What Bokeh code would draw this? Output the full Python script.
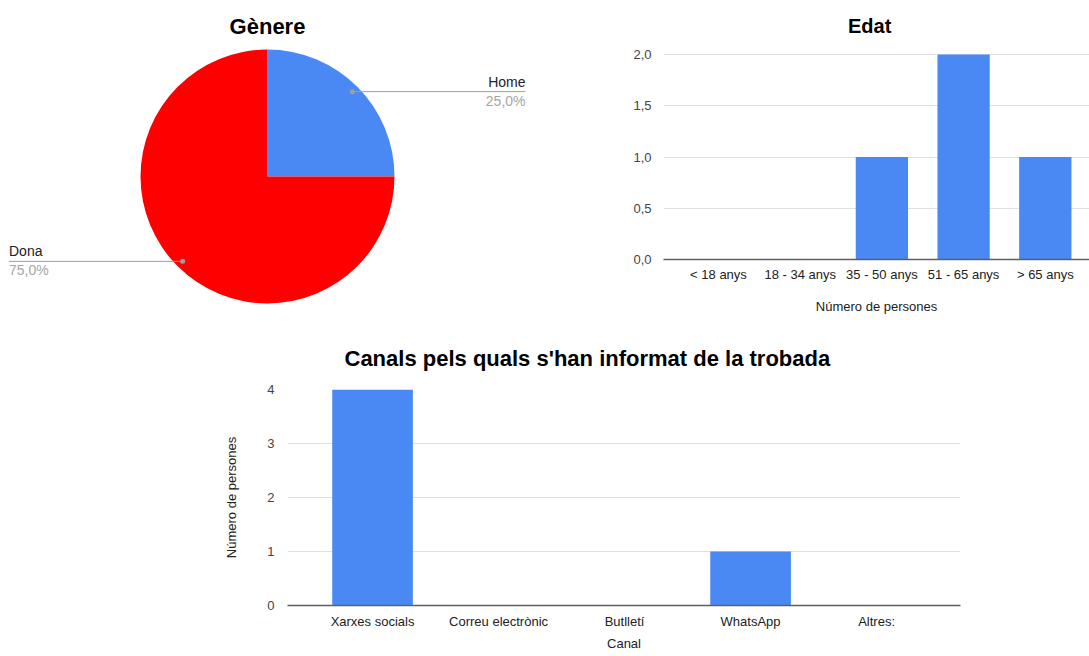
import math
from bokeh.plotting import figure
from bokeh.layouts import column, row
from bokeh.models import Range1d, FixedTicker, Spacer, CustomJSTickFormatter, ColumnDataSource, Title
from bokeh.embed import file_html
from bokeh.resources import INLINE
from bokeh.core.properties import value

FONT = "Liberation Sans"

# ---------------- data ----------------
gender_labels = ["Home", "Dona"]
gender_counts = [1, 3]
gender_colors = ["#4a89f3", "#ff0000"]

age_groups = ["< 18 anys", "18 - 34 anys", "35 - 50 anys", "51 - 65 anys", "> 65 anys"]
age_counts = [0, 0, 1, 2, 1]
age_ticks = [0, 0.5, 1, 1.5, 2]

channels = ["Xarxes socials", "Correu electrònic", "Butlletí", "WhatsApp", "Altres:"]
channel_counts = [4, 0, 0, 1, 0]
channel_ticks = [0, 1, 2, 3, 4]

BLUE = "#4a89f3"


def base_fig(**kw):
    p = figure(output_backend="svg", toolbar_location=None, **kw)
    p.outline_line_color = None
    p.background_fill_color = "white"
    p.border_fill_color = "white"
    return p


# ---------------- pie: Gènere ----------------
pie = base_fig(width=610, height=324, x_range=Range1d(0, 610), y_range=Range1d(-324, 0),
               min_border=0)
pie.axis.visible = False
pie.grid.visible = False

cx, cy, R = 267, -176, 127
total = sum(gender_counts)
starts, ends, mids, pcts = [], [], [], []
cum = 0.0
for v in gender_counts:
    a_start = math.pi / 2 - 2 * math.pi * (cum + v) / total
    a_end = math.pi / 2 - 2 * math.pi * cum / total
    starts.append(a_start)
    ends.append(a_end)
    mids.append((a_start + a_end) / 2)
    pcts.append(("%.1f" % (v / total * 100)).replace(".", ",") + "%")
    cum += v

pie.wedge(x=cx, y=cy, radius=R, start_angle=starts, end_angle=ends,
          fill_color=gender_colors, line_color=None)

dot_x = [cx + 0.945 * R * math.cos(m) for m in mids]
dot_y = [cy + 0.945 * R * math.sin(m) for m in mids]
end_x = [525 if math.cos(m) > 0 else 8.5 for m in mids]
align = ["right" if math.cos(m) > 0 else "left" for m in mids]

pie.segment(x0=dot_x, y0=dot_y, x1=end_x, y1=dot_y, line_color="#9e9e9e", line_width=1)
pie.scatter(x=dot_x, y=dot_y, size=5, fill_color="#9e9e9e", line_color=None)

src_lab = ColumnDataSource(dict(x=end_x, y=[y + 10 for y in dot_y], t=gender_labels, a=align))
pie.text(x="x", y="y", text="t", text_align="a", text_baseline="middle",
         text_font=value(FONT), text_font_size="14px", text_color="#222222", source=src_lab)
src_pct = ColumnDataSource(dict(x=end_x, y=[y - 9 for y in dot_y], t=pcts, a=align))
pie.text(x="x", y="y", text="t", text_align="a", text_baseline="middle",
         text_font=value(FONT), text_font_size="14px", text_color="#a6a6a6", source=src_pct)

pie.text(x=[267], y=[-26], text=["Gènere"], text_align="center", text_baseline="middle",
         text_font=value(FONT), text_font_size="22px", text_font_style="bold",
         text_color="#000000")


def style_bar_axes(p, xlabels):
    p.xgrid.grid_line_color = None
    p.ygrid.grid_line_color = "#e0e0e0"
    p.ygrid.grid_line_width = 1
    p.yaxis.axis_line_color = None
    p.yaxis.major_tick_line_color = None
    p.yaxis.minor_tick_line_color = None
    p.yaxis.major_label_text_font = FONT
    p.yaxis.major_label_text_font_size = "13px"
    p.yaxis.major_label_text_color = "#444444"
    p.xaxis.axis_line_color = "#5f5f5f"
    p.xaxis.axis_line_width = 1.5
    p.xaxis.major_tick_line_color = None
    p.xaxis.minor_tick_line_color = None
    p.xaxis.ticker = FixedTicker(ticks=list(range(len(xlabels))))
    p.xaxis.major_label_overrides = {i: s for i, s in enumerate(xlabels)}
    p.xaxis.major_label_text_font = FONT
    p.xaxis.major_label_text_font_size = "13px"
    p.xaxis.major_label_text_color = "#222222"
    for ax in (p.xaxis, p.yaxis):
        ax.axis_label_text_font = FONT
        ax.axis_label_text_font_size = "13px"
        ax.axis_label_text_font_style = "normal"
        ax.axis_label_text_color = "#222222"


# ---------------- bar: Edat ----------------
# frame runs from the top of the figure so the title sits inside it, above the 2,0 gridline
edat = base_fig(width=479, height=324, x_range=Range1d(-0.673, 4.541), y_range=Range1d(0, 2.527),
                min_border_left=53, min_border_right=0, min_border_top=0, min_border_bottom=65)
edat.vbar(x=list(range(len(age_groups))), top=age_counts, width=0.64,
          fill_color=BLUE, line_color=None)
style_bar_axes(edat, age_groups)
edat.yaxis.ticker = FixedTicker(ticks=age_ticks)
edat.yaxis.formatter = CustomJSTickFormatter(code="return tick.toFixed(1).replace('.', ',');")
edat.yaxis.major_label_standoff = 6
edat.xaxis.major_label_standoff = 1
edat.xaxis.axis_label = "Número de persones"
edat.xaxis.axis_label_standoff = 14
edat.text(x=[1.85], y=[2.283], text=["Edat"], text_align="center", text_baseline="middle",
          text_font=value(FONT), text_font_size="20px", text_font_style="bold",
          text_color="#000000")

# ---------------- bar: Canals ----------------
canals = base_fig(width=800, height=331, x_range=Range1d(-0.675, 4.666), y_range=Range1d(0, 4),
                  min_border_left=87, min_border_right=40, min_border_top=65, min_border_bottom=50)
canals.title = Title(text="Canals pels quals s'han informat de la trobada", align="left", offset=57,
                     text_font=FONT, text_font_size="22px", text_font_style="bold",
                     text_color="#000000", standoff=38)
canals.vbar(x=list(range(len(channels))), top=channel_counts, width=0.64,
            fill_color=BLUE, line_color=None)
style_bar_axes(canals, channels)
canals.yaxis.ticker = FixedTicker(ticks=channel_ticks)
canals.yaxis.major_label_standoff = 7
canals.yaxis.axis_label = "Número de persones"
canals.yaxis.axis_label_standoff = 25
canals.xaxis.major_label_standoff = 2
canals.xaxis.axis_label = "Canal"
canals.xaxis.axis_label_standoff = 4

layout = column(row(column(pie), column(edat)), row(Spacer(width=200, height=331), column(canals)))

open("out.html", "w").write(file_html(layout, INLINE))
